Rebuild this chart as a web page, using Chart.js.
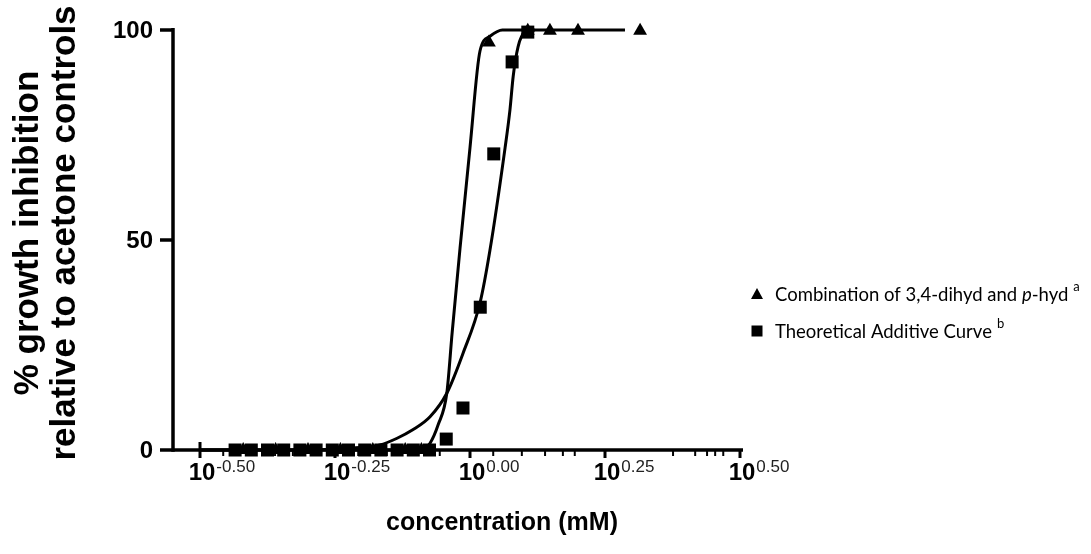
<!DOCTYPE html>
<html>
<head>
<meta charset="utf-8">
<script src="https://cdn.jsdelivr.net/npm/chart.js@4.4.1/dist/chart.umd.min.js"></script>
<style>
  html, body { margin: 0; padding: 0; background: #ffffff; }
  #wrap { width: 1091px; height: 554px; position: relative; }
</style>
</head>
<body>
<div id="wrap"><canvas id="c" width="1091" height="554"></canvas></div>
<script>
// x values are log10 of the concentration in mM
const additiveLogConc = [-0.435, -0.405, -0.375, -0.345, -0.315, -0.285, -0.255, -0.225, -0.195, -0.165, -0.135, -0.105, -0.075, -0.044, -0.013, 0.019, 0.044, 0.078, 0.107];
const additiveInhibition = [0, 0, 0, 0, 0, 0, 0, 0, 0, 0, 0, 0, 0, 2.6, 10, 34, 70.5, 92.4, 99.5];

const comboLogConc = [-0.42, -0.36, -0.30, -0.24, -0.18, -0.12, -0.09, 0.035, 0.107, 0.148, 0.2, 0.315];
const comboInhibition = [0, 0, 0, 0, 0, 0, 0, 97, 99.8, 99.8, 99.8, 99.8];

// fitted dose-response curves
const comboFitLogConc = [-0.5, -0.1, -0.085, -0.074, -0.059, -0.043, -0.033, -0.0185, 0, 0.0185, 0.037, 0.06, 0.1, 0.287];
const comboFitInhibition = [0, 0, 0.3, 1.6, 6, 13.5, 28, 48, 72, 95, 98.5, 100, 100, 100];

const additiveFitLogConc = [-0.5, -0.3, -0.259, -0.204, -0.167, -0.135, -0.106, -0.074, -0.043, -0.013, 0.0185, 0.037, 0.065, 0.074, 0.08, 0.089, 0.102, 0.12];
const additiveFitInhibition = [0, 0, 0.2, 0.6, 1.2, 2.8, 4.8, 7.9, 13.5, 23, 35, 47.6, 72, 81, 89, 96, 99.5, 100];

// axis ticks
const xMajorTicks = [-0.5, -0.25, 0, 0.25, 0.5];
const xTickExponents = ['-0.50', '-0.25', '0.00', '0.25', '0.50'];
const xMinorTicks = [-0.457, -0.404, -0.361, -0.328, -0.306, -0.207, -0.154, -0.111, -0.078, -0.056, 0.043, 0.096, 0.139, 0.172, 0.194, 0.376, 0.417, 0.439, 0.454, 0.469];
const yTicks = [0, 50, 100];

const seriesNames = ['Combination of 3,4-dihyd and ', 'Theoretical Additive Curve'];

function pts(xs, ys) { return xs.map((x, i) => ({ x: x, y: ys[i] })); }

const AXIS_FONT = '"Liberation Sans", Arial, sans-serif';

const axesPlugin = {
  id: 'prismAxes',
  beforeDatasetsDraw(chart) {
    const ctx = chart.ctx;
    const xs = chart.scales.x, ys = chart.scales.y;
    const y0 = ys.getPixelForValue(0), y100 = ys.getPixelForValue(100);
    const axisX = xs.left - 27;
    ctx.save();
    ctx.strokeStyle = '#000';
    ctx.lineWidth = 3.5;
    ctx.lineCap = 'butt';
    // y axis
    ctx.beginPath();
    ctx.moveTo(axisX, y100 - 2);
    ctx.lineTo(axisX, y0 + 1.75);
    ctx.stroke();
    yTicks.forEach(v => {
      const py = ys.getPixelForValue(v);
      ctx.beginPath();
      ctx.moveTo(axisX - 13, py);
      ctx.lineTo(axisX, py);
      ctx.stroke();
    });
    // x axis
    ctx.beginPath();
    ctx.moveTo(axisX, y0);
    ctx.lineTo(xs.getPixelForValue(0.5) + 3, y0);
    ctx.stroke();
    ctx.lineWidth = 3;
    xMajorTicks.forEach((v, i) => {
      const px = xs.getPixelForValue(v);
      ctx.beginPath();
      ctx.moveTo(px, i === 0 ? y0 - 8 : y0);
      ctx.lineTo(px, y0 + 8);
      ctx.stroke();
    });
    ctx.lineWidth = 2;
    xMinorTicks.forEach(v => {
      const px = xs.getPixelForValue(v);
      ctx.beginPath();
      ctx.moveTo(px, y0);
      ctx.lineTo(px, y0 + 6);
      ctx.stroke();
    });

    // y tick labels
    ctx.fillStyle = '#000';
    ctx.font = 'bold 24px ' + AXIS_FONT;
    ctx.textAlign = 'right';
    ctx.textBaseline = 'middle';
    yTicks.forEach(v => {
      ctx.fillText(String(v), axisX - 20, ys.getPixelForValue(v) + 1);
    });

    // x tick labels: 10 with a raised exponent
    ctx.textBaseline = 'alphabetic';
    xMajorTicks.forEach((v, i) => {
      const px = xs.getPixelForValue(v);
      ctx.font = 'bold 24px ' + AXIS_FONT;
      ctx.textAlign = 'center';
      ctx.fillStyle = '#000';
      ctx.fillText('10', px + 2, y0 + 30);
      const w = ctx.measureText('10').width;
      ctx.font = '17px ' + AXIS_FONT;
      ctx.textAlign = 'left';
      ctx.fillStyle = '#222';
      ctx.fillText(xTickExponents[i], px + 2 + w / 2 + 1, y0 + 22);
    });

    // axis titles
    ctx.fillStyle = '#000';
    ctx.font = 'bold 25px ' + AXIS_FONT;
    ctx.textAlign = 'center';
    ctx.textBaseline = 'middle';
    ctx.fillText('concentration (mM)', 502, 523);

    ctx.save();
    ctx.translate(0, 233);
    ctx.rotate(-Math.PI / 2);
    ctx.font = 'bold 35px ' + AXIS_FONT;
    ctx.textBaseline = 'alphabetic';
    ctx.fillText('% growth inhibition', 0, 38);
    ctx.fillText('relative to acetone controls', 0, 75);
    ctx.restore();
    ctx.restore();
  },
  afterDraw(chart) {
    // legend with mixed styles (italic p, superscript notes)
    const ctx = chart.ctx;
    ctx.save();
    ctx.fillStyle = '#000';
    const mx = 757;
    // triangle marker
    const ty = 294;
    ctx.beginPath();
    ctx.moveTo(mx, ty - 6);
    ctx.lineTo(mx + 6, ty + 5);
    ctx.lineTo(mx - 6, ty + 5);
    ctx.closePath();
    ctx.fill();
    // square marker
    const sy = 331;
    ctx.fillRect(mx - 5.5, sy - 5.5, 11, 11);

    const LF = 'Lato, "Open Sans", sans-serif';
    const FS = 18.5;
    ctx.textBaseline = 'alphabetic';
    ctx.textAlign = 'left';
    let x = 775;
    ctx.font = FS + 'px ' + LF;
    ctx.fillText(seriesNames[0], x, ty + 7);
    x += ctx.measureText(seriesNames[0]).width;
    ctx.font = 'italic ' + FS + 'px ' + LF;
    ctx.fillText('p', x, ty + 7);
    x += ctx.measureText('p').width;
    ctx.font = FS + 'px ' + LF;
    ctx.fillText('-hyd', x, ty + 7);
    x += ctx.measureText('-hyd').width + 5;
    ctx.font = '13px ' + LF;
    ctx.fillText('a', x, ty - 3);

    x = 775;
    ctx.font = FS + 'px ' + LF;
    ctx.fillText(seriesNames[1], x, sy + 7);
    x += ctx.measureText(seriesNames[1]).width + 5;
    ctx.font = '13px ' + LF;
    ctx.fillText('b', x, sy - 3);
    ctx.restore();
  }
};

new Chart(document.getElementById('c'), {
  type: 'scatter',
  data: {
    datasets: [
      {
        label: 'Combination fit',
        data: pts(comboFitLogConc, comboFitInhibition),
        showLine: true,
        borderColor: '#000',
        borderWidth: 3,
        pointRadius: 0,
        cubicInterpolationMode: 'monotone',
        clip: false,
        order: 3
      },
      {
        label: 'Additive fit',
        data: pts(additiveFitLogConc, additiveFitInhibition),
        showLine: true,
        borderColor: '#000',
        borderWidth: 3,
        pointRadius: 0,
        cubicInterpolationMode: 'monotone',
        clip: false,
        order: 2
      },
      {
        label: seriesNames[0],
        data: pts(comboLogConc, comboInhibition),
        pointStyle: 'triangle',
        pointRadius: 8,
        backgroundColor: '#000',
        borderColor: '#000',
        borderWidth: 0,
        clip: false,
        order: 1
      },
      {
        label: seriesNames[1],
        data: pts(additiveLogConc, additiveInhibition),
        pointStyle: 'rect',
        pointRadius: 9.2,
        backgroundColor: '#000',
        borderColor: '#000',
        borderWidth: 0,
        clip: false,
        order: 0
      }
    ]
  },
  options: {
    responsive: false,
    animation: false,
    devicePixelRatio: 1,
    layout: { padding: { left: 200, right: 351, top: 30, bottom: 104 } },
    scales: {
      x: { type: 'linear', min: -0.5, max: 0.5, display: false },
      y: { type: 'linear', min: 0, max: 100, display: false }
    },
    plugins: {
      legend: { display: false },
      tooltip: { enabled: false }
    }
  },
  plugins: [axesPlugin]
});
</script>
</body>
</html>
